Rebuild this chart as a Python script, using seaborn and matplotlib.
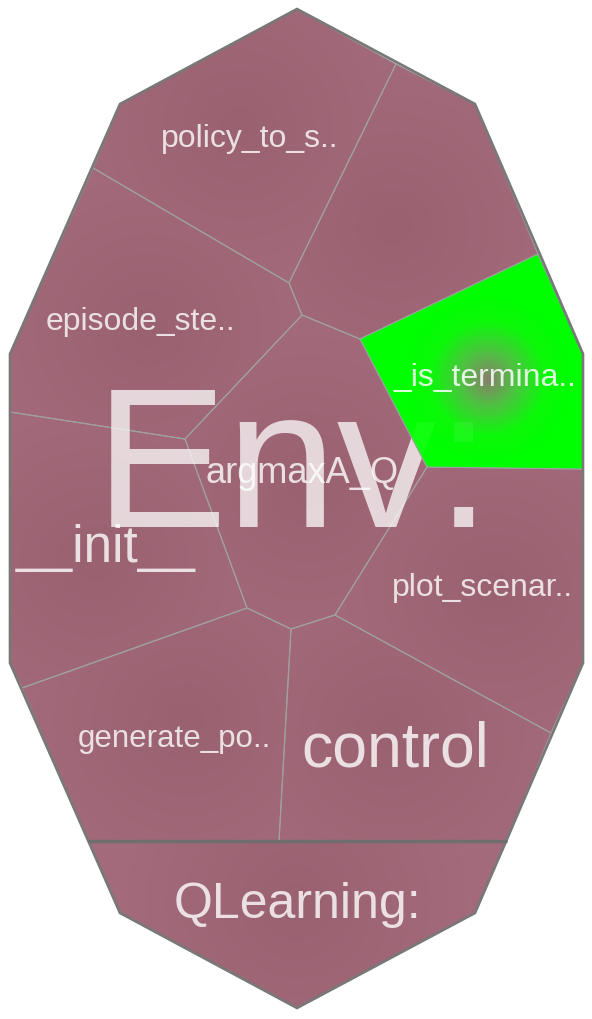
import numpy as np
import seaborn as sns
import matplotlib.pyplot as plt
from matplotlib.patches import Polygon

# shared corner points of the voronoi treemap (pixel space of the picture)
node_x = [297, 475, 583, 583, 475, 297, 120, 10, 10, 120,
          396, 289, 302, 93, 538, 360, 583, 427, 185, 10,
          335, 291, 247, 22, 551, 88, 507, 279]
node_y = [10, 105, 355, 664, 914, 1009, 914, 664, 355, 105,
          65, 284, 316, 169, 255, 340, 470, 468, 440, 413,
          616, 630, 609, 689, 734, 842, 842, 842]

outline_nodes = [0, 1, 2, 3, 4, 5, 6, 7, 8, 9]

cell_names = ['policy_to_s..', '', 'episode_ste..', '_is_termina..',
              'argmaxA_Q', '__init__', 'plot_scenar..', 'generate_po..',
              'control', 'QLearning:']
cell_nodes = [
    [9, 0, 10, 11, 13],
    [10, 1, 14, 15, 12, 11],
    [13, 11, 12, 18, 19, 8],
    [15, 14, 2, 16, 17],
    [12, 15, 17, 20, 21, 22, 18],
    [19, 18, 22, 23, 7],
    [17, 16, 3, 24, 20],
    [23, 22, 21, 27, 25],
    [21, 20, 24, 26, 27],
    [25, 26, 4, 5, 6],
]
highlight = '_is_termina..'
group_names = ['Env:', 'QLearning:']

# label placement (baseline anchor) and font size per cell
label_pos = {
    'policy_to_s..': (250, 147, 23),
    'episode_ste..': (140, 330, 23),
    '_is_termina..': (485, 386, 23),
    'argmaxA_Q': (302, 483, 26),
    '__init__': (106, 562, 37),
    'plot_scenar..': (483, 596, 23),
    'generate_po..': (174, 747, 22.5),
    'control': (395, 767, 45),
    'QLearning:': (297, 918, 36),
}

sns.set_theme(style='white')
plt.rcParams['font.family'] = ['Liberation Sans', 'DejaVu Sans']

W, H = 592, 1020
fig = plt.figure(figsize=(W / 100, H / 100), dpi=100)
ax = fig.add_axes([0, 0, 1, 1])
ax.set_xlim(0, W)
ax.set_ylim(H, 0)
ax.axis('off')

xx, yy = np.meshgrid(np.arange(W) + 0.5, np.arange(H) + 0.5)
mauve = sns.blend_palette(['#9a6271', '#a26a7a'], as_cmap=True)
greens = sns.blend_palette(['#86806a', '#4cc440', '#0cf80a', '#00ff00'], as_cmap=True)


def poly_xy(ids):
    return np.array([[node_x[i], node_y[i]] for i in ids])


def shaded_cell(pts, cmap, cx, cy, radius, alpha=1.0, z=1):
    patch = Polygon(pts, closed=True, facecolor='none', edgecolor='none')
    ax.add_patch(patch)
    r = np.clip(np.hypot(xx - cx, yy - cy) / radius, 0, 1)
    im = ax.imshow(r, cmap=cmap, vmin=0, vmax=1, extent=(0, W, H, 0),
                   interpolation='bilinear', alpha=alpha, zorder=z)
    im.set_clip_path(patch)
    return patch


for name, ids in zip(cell_names, cell_nodes):
    pts = poly_xy(ids)
    if name == highlight:
        continue
    cx, cy = pts.mean(axis=0)
    shaded_cell(pts, mauve, cx, cy, 170)
    ax.add_patch(Polygon(pts, closed=True, facecolor='none',
                         edgecolor='#a0a0a0', lw=0.8, zorder=2))

# group title drawn under the highlighted cell
env_kw = dict(ha='center', va='baseline', fontsize=143, color='white')
ax.text(293, 527, group_names[0], alpha=0.72, zorder=3, **env_kw)

gpts = poly_xy(cell_nodes[cell_names.index(highlight)])
green_patch = shaded_cell(gpts, greens, 488, 380, 85, z=4)
ghost = ax.text(293, 527, group_names[0], alpha=0.07, zorder=5, **env_kw)
ghost.set_clip_path(green_patch)
ax.add_patch(Polygon(gpts, closed=True, facecolor='none',
                     edgecolor='#a0a0a0', lw=0.8, zorder=5))

# outer border and group divider
ax.add_patch(Polygon(poly_xy(outline_nodes), closed=True, facecolor='none',
                     edgecolor='#787878', lw=1.9, zorder=6))
ax.plot([node_x[25], node_x[26]], [node_y[25], node_y[26]],
        color='#6e6e6e', lw=2.4, zorder=6, solid_capstyle='butt')

for name, (tx, ty, fs) in label_pos.items():
    a = 0.85 if name == highlight else 0.8
    ax.text(tx, ty, name, ha='center', va='baseline', fontsize=fs,
            color='white', alpha=a, zorder=7)

fig.savefig('out.png', dpi=100)
